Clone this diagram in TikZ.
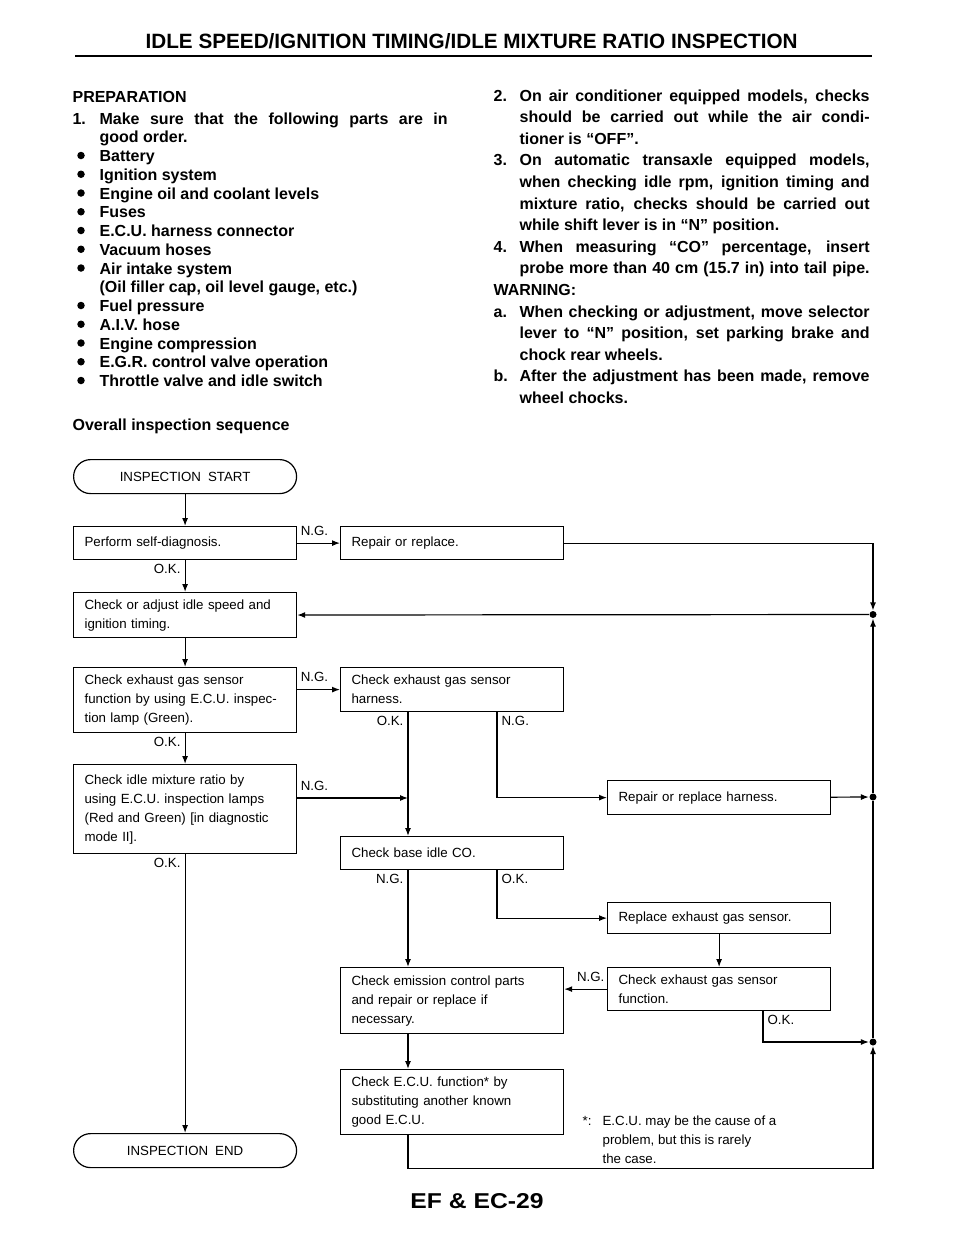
\documentclass[tikz,border=0pt]{standalone}
\usepackage{fontspec}
\usepackage{graphicx}
\setmainfont{Liberation Sans}
\usetikzlibrary{arrows.meta}

\newcommand{\jline}[2][350pt]{\makebox[#1][s]{#2}}

\begin{document}
\begin{tikzpicture}[
  x=1pt, y=-1pt,
  line width=1.2pt,
  every node/.style={inner sep=0pt},
  body/.style={anchor=base west, font=\fontsize{16}{19}\selectfont\bfseries},
  flow/.style={font=\fontsize{13.3}{19}\selectfont},
  box/.style={flow, draw, anchor=north west, align=left, text width=201pt, inner xsep=11pt},
  term/.style={flow, draw, anchor=north west, minimum width=223pt, minimum height=34pt, rounded corners=17pt},
  dot/.style={circle, fill, minimum size=7pt},
  lab/.style={flow},
  ngr/.style={lab, pos=0, anchor=south west, xshift=3pt, yshift=7pt},
  ngl/.style={lab, pos=0, anchor=south east, xshift=-2pt, yshift=7pt},
  okl/.style={lab, pos=0, anchor=north east, xshift=-4pt, yshift=-3pt},
  okr/.style={lab, pos=0, anchor=north west, xshift=4pt, yshift=-3pt},
  >={Latex[length=8pt,width=6pt]},
]
  \useasboundingbox (0,0) rectangle (960,1242);
  \fill[white] (0,0) rectangle (960,1242);

  % heading
  \node[anchor=base west] (title) at (145,48)
    {\resizebox{652pt}{15pt}{\bfseries IDLE SPEED/IGNITION TIMING/IDLE MIXTURE RATIO INSPECTION}};
  \draw[line width=2.6pt] (75,56) -- (872,56);

  % preparation, left column
  \node[body] (prep) at (72,102) {PREPARATION};
  \node[body] (n1) at (72,124) {1.};
  \node[body] (l0) at (99,124) {\jline[348pt]{Make sure that the following parts are in}};
  \foreach \n/\t in {1/good order., 2/Battery, 3/Ignition system,
      4/Engine oil and coolant levels, 5/Fuses, 6/E.C.U. harness connector,
      7/Vacuum hoses, 8/Air intake system, 9/{(Oil filler cap, oil level gauge, etc.)},
      10/Fuel pressure, 11/A.I.V. hose, 12/Engine compression,
      13/E.G.R. control valve operation, 14/Throttle valve and idle switch}
    \node[body] (l\n) at (99,{124+18.75*\n}) {\t};
  \foreach \n in {2,...,8,10,11,...,14}
    \node[dot, minimum size=7.5pt] (b\n) at (81,{118+18.75*\n}) {};
  \node[body] (seq) at (72,430) {Overall inspection sequence};

  % notes, right column
  \foreach \n/\t in {1/2., 4/3., 8/4., 10/WARNING:, 11/a., 14/b.}
    \node[body] (m\n) at (493,{101+21.6*(\n-1)}) {\t};
  \foreach \n/\t in {1/\jline{On air conditioner equipped models, checks},
      2/\jline{should be carried out while the air condi-},
      3/tioner is “OFF”.,
      4/\jline{On automatic transaxle equipped models,},
      5/\jline{when checking idle rpm, ignition timing and},
      6/\jline{mixture ratio, checks should be carried out},
      7/while shift lever is in “N” position.,
      8/\jline{When measuring “CO” percentage, insert},
      9/\jline{probe more than 40 cm (15.7 in) into tail pipe.},
      11/\jline{When checking or adjustment, move selector},
      12/\jline{lever to “N” position, set parking brake and},
      13/chock rear wheels.,
      14/\jline{After the adjustment has been made, remove},
      15/wheel chocks.}
    \node[body] (r\n) at (519,{101+21.6*(\n-1)}) {\t};

  % flow chart
  \node[term] (start) at (73,459) {INSPECTION\hspace{7pt}START};
  \node[box, minimum height=33pt] (perform) at (73,526) {Perform self-diagnosis.};
  \node[box, minimum height=33pt] (repair) at (340,526) {Repair or replace.};
  \node[box, minimum height=45pt] (adjust) at (73,592) {Check or adjust idle speed and\\ignition timing.};
  \node[box, minimum height=65pt] (exhfn) at (73,667)
    {Check exhaust gas sensor\\function by using E.C.U. inspec-\\tion lamp (Green).};
  \node[box, minimum height=44pt] (harness) at (340,667) {Check exhaust gas sensor\\harness.};
  \node[box, minimum height=89pt] (mixture) at (73,764)
    {Check idle mixture ratio by\\using E.C.U. inspection lamps\\(Red and Green) [in diagnostic\\mode II].};
  \node[box, minimum height=34pt] (repharn) at (607,780) {Repair or replace harness.};
  \node[box, minimum height=33pt] (baseco) at (340,836) {Check base idle CO.};
  \node[box, minimum height=31pt] (replace) at (607,902) {Replace exhaust gas sensor.};
  \node[box, minimum height=43pt] (sensorfn) at (607,967) {Check exhaust gas sensor\\function.};
  \node[box, minimum height=66pt] (emission) at (340,967)
    {Check emission control parts\\and repair or replace if\\necessary.};
  \node[box, minimum height=65pt] (ecu) at (340,1069)
    {Check E.C.U. function* by\\substituting another known\\good E.C.U.};
  \node[term] (finish) at (73,1133) {INSPECTION\hspace{7pt}END};

  \node[dot] (j1) at (873,614.5) {};
  \node[dot] (j2) at (873,797) {};
  \node[dot] (j3) at (873,1042) {};
  \coordinate (mx) at (408,798);

  \draw[->] (start) -- (perform);
  \draw[->] (perform) -- node[ngr] {N.G.} (repair);
  \draw[->] (repair) -| (j1);
  \draw[->] (j1) -- (adjust);
  \draw[->] (perform) -- node[okl] {O.K.} (adjust);
  \draw[->] (adjust) -- (exhfn);
  \draw[->] (exhfn.east |- harness) -- node[ngr] {N.G.} (harness);
  \draw[->] (exhfn) -- node[okl] {O.K.} (mixture);
  \draw[->] (mixture.east |- mx) -- node[ngr] {N.G.} (mx);
  \draw[->] ([xshift=68pt]harness.south west) -- node[okl] {O.K.} ([xshift=68pt]baseco.north west);
  \draw[->] ([xshift=157pt]harness.south west) |- node[okr] {N.G.} (repharn);
  \draw[->] (repharn) -- (j2);
  \draw[->] (j2) -- (j1);
  \draw (j3) -- (j2);
  \draw[->] ([xshift=68pt]baseco.south west) -- node[okl] {N.G.} ([xshift=68pt]emission.north west);
  \draw[->] ([xshift=157pt]baseco.south west) |- node[okr] {O.K.} (replace);
  \draw[->] (replace) -- (sensorfn);
  \draw[->] (sensorfn) -- node[ngl] {N.G.} (sensorfn.west -| emission.east);
  \draw[->] ([xshift=156pt]sensorfn.south west) |- node[okr] {O.K.} (j3);
  \draw[->] ([xshift=68pt]emission.south west) -- ([xshift=68pt]ecu.north west);
  \draw[->] ([xshift=68pt]ecu.south west) |- (j3 |- finish.south) -- (j3);
  \draw[->] (mixture) -- node[okl] {O.K.} (finish);

  % footnote
  \node[lab, anchor=base west] (fnmark) at (582,1125) {*:};
  \foreach \t [count=\i] in {E.C.U. may be the cause of a, {problem, but this is rarely}, the case.}
    \node[lab, anchor=base west] (fn\i) at (602,{1106+19*\i}) {\t};

  \node[anchor=base] (page) at (477,1208) {\resizebox{133pt}{15pt}{\bfseries EF \& EC-29}};
\end{tikzpicture}
\end{document}
